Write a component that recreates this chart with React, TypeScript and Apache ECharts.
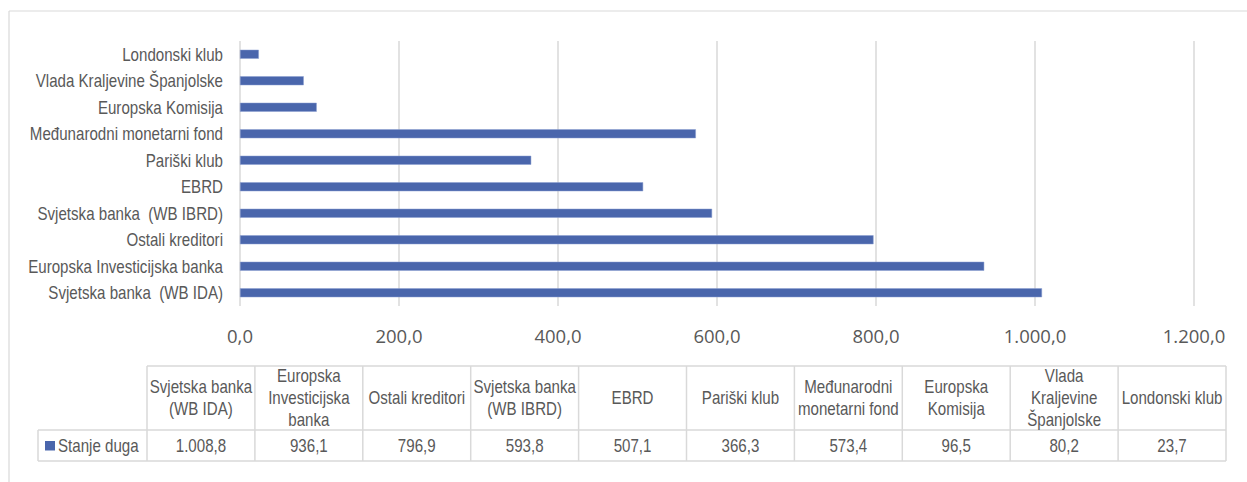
import React, { useEffect, useRef } from "react";
import * as echarts from "echarts";

const categories = [
  "Svjetska banka  (WB IDA)",
  "Europska Investicijska banka",
  "Ostali kreditori",
  "Svjetska banka  (WB IBRD)",
  "EBRD",
  "Pariški klub",
  "Međunarodni monetarni fond",
  "Europska Komisija",
  "Vlada Kraljevine Španjolske",
  "Londonski klub",
];
const values = [1008.8, 936.1, 796.9, 593.8, 507.1, 366.3, 573.4, 96.5, 80.2, 23.7];
const tableHeaders = [
  "Svjetska banka\n(WB IDA)",
  "Europska\nInvesticijska\nbanka",
  "Ostali kreditori",
  "Svjetska banka\n(WB IBRD)",
  "EBRD",
  "Pariški klub",
  "Međunarodni\nmonetarni fond",
  "Europska\nKomisija",
  "Vlada\nKraljevine\nŠpanjolske",
  "Londonski klub",
];
const seriesName = "Stanje duga";
const xMin = 0;
const xMax = 1200;
const xInterval = 200;

const BAR = "#4a66ac";
const GRID = "#d9d9d9";
const TEXT = "#595959";
const SANS = '"Liberation Sans", Arial, sans-serif';
const TICKFONT = '"Open Sans", sans-serif';
const NARROW_SCALE = 0.84;

function fmt(v: number): string {
  const [i, d] = v.toFixed(1).split(".");
  return i.replace(/\B(?=(\d{3})+(?!\d))/g, ".") + "," + d;
}

export default function App() {
  const ref = useRef<HTMLDivElement>(null);
  useEffect(() => {
    document.body.style.margin = "0";
    if (!ref.current) return;
    const chart = echarts.init(ref.current, undefined, { renderer: "svg" });

    chart.setOption({
      animation: false,
      grid: { left: 240, right: 53, top: 41, height: 265, containLabel: false, outerBoundsMode: "none" },
      xAxis: {
        type: "value",
        min: xMin,
        max: xMax,
        interval: xInterval,
        axisLine: { show: false },
        axisTick: { show: false },
        splitLine: { show: true, lineStyle: { color: GRID, width: 1.5 } },
        axisLabel: {
          formatter: (v: number) => fmt(v),
          color: TEXT,
          fontFamily: TICKFONT,
          fontSize: 18.5,
          margin: 19,
          lineHeight: 20,
        },
      },
      yAxis: {
        type: "category",
        data: categories,
        axisLine: { show: false },
        axisTick: { show: false },
        splitLine: { show: false },
        axisLabel: { show: false },
      },
      series: [
        {
          name: seriesName,
          type: "bar",
          data: values,
          barWidth: 9,
          itemStyle: { color: BAR, borderColor: "#8a9fd0", borderWidth: 0.5 },
        },
      ],
    });

    const tLeft = 147;
    const colW = 107.9;
    const legendLeft = 38;
    const hTop = 366;
    const hBot = 430;
    const dBot = 461;
    const tRight = tLeft + colW * tableHeaders.length;
    const lineStyle = { stroke: GRID, lineWidth: 1.5 };
    const narrowText = (text: string, x: number, y: number, align: string, lineHeight?: number) => ({
      type: "text",
      x,
      y,
      scaleX: NARROW_SCALE,
      style: {
        text,
        fill: TEXT,
        font: `18px ${SANS}`,
        align,
        verticalAlign: "middle",
        lineHeight: lineHeight || 20,
      },
    });

    const graphics: any[] = [];
    // outer frame
    graphics.push({ type: "line", shape: { x1: 9, y1: 11, x2: 1247, y2: 11 }, style: { stroke: GRID, lineWidth: 1.2 } });
    graphics.push({ type: "line", shape: { x1: 9, y1: 11, x2: 9, y2: 482 }, style: { stroke: GRID, lineWidth: 1.2 } });

    // category labels placed via the axis scale
    const labelX = (chart.convertToPixel({ gridIndex: 0 }, [xMin, 0]) as number[])[0] - 17;
    categories.forEach((c) => {
      const y = chart.convertToPixel({ yAxisIndex: 0 }, c) as number;
      graphics.push(narrowText(c, labelX, y + 0.5, "right"));
    });

    // table lines
    graphics.push({ type: "line", shape: { x1: tLeft, y1: hTop, x2: tRight, y2: hTop }, style: lineStyle });
    graphics.push({ type: "line", shape: { x1: legendLeft, y1: hBot, x2: tRight, y2: hBot }, style: lineStyle });
    graphics.push({ type: "line", shape: { x1: legendLeft, y1: dBot, x2: tRight, y2: dBot }, style: lineStyle });
    graphics.push({ type: "line", shape: { x1: legendLeft, y1: hBot, x2: legendLeft, y2: dBot }, style: lineStyle });
    for (let k = 0; k <= tableHeaders.length; k++) {
      const x = tLeft + k * colW;
      graphics.push({ type: "line", shape: { x1: x, y1: hTop, x2: x, y2: dBot }, style: lineStyle });
    }
    tableHeaders.forEach((h, k) => {
      const cx = tLeft + (k + 0.5) * colW;
      graphics.push(narrowText(h, cx, (hTop + hBot) / 2, "center", 21.7));
      graphics.push(narrowText(fmt(values[k]), cx, (hBot + dBot) / 2 + 0.5, "center"));
    });
    // legend key
    graphics.push({ type: "rect", shape: { x: 45, y: 441, width: 10, height: 9.5 }, style: { fill: BAR } });
    graphics.push(narrowText(seriesName, 58, (hBot + dBot) / 2 + 0.5, "left"));

    chart.setOption({ graphic: graphics });
    return () => chart.dispose();
  }, []);
  return <div ref={ref} style={{ width: 1247, height: 482 }} />;
}
